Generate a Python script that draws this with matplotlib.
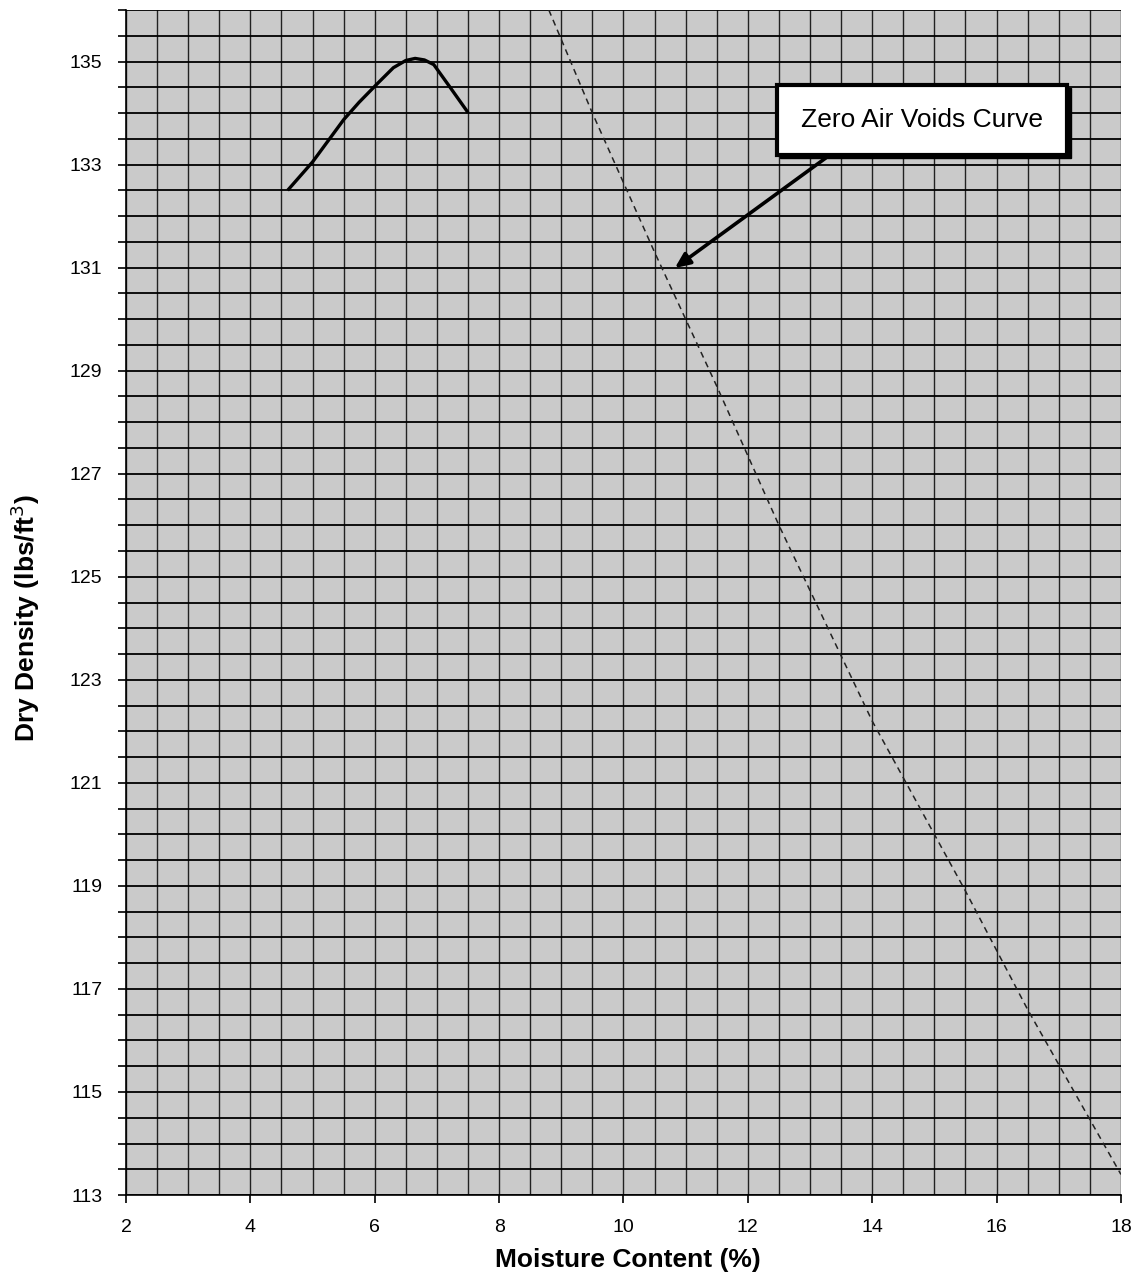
#!/usr/bin/env python3
from matplotlib import pyplot as plt
from matplotlib.patches import Rectangle
import numpy as np

plt.rcParams['font.family'] = ['Liberation Sans', 'DejaVu Sans']

# compaction curve (moisture %, dry density)
moist = [4.6, 5.0, 5.5, 5.75, 6.05, 6.3, 6.5, 6.65, 6.8, 6.95, 7.2, 7.5]
dens = [132.5, 133.05, 133.87, 134.21, 134.58, 134.88, 135.02, 135.06, 135.03, 134.94, 134.52, 134.01]

# zero air voids curve
zav_moist = [8.8, 9.5, 10.5, 11.5, 12.5, 14.0, 15.5, 16.5, 18.0]
zav_dens = [136.0, 134.0, 131.3, 128.7, 126.0, 122.2, 118.9, 116.6, 113.4]

xticks = [2, 4, 6, 8, 10, 12, 14, 16, 18]
yticks = [113, 115, 117, 119, 121, 123, 125, 127, 129, 131, 133, 135]

fig = plt.figure(figsize=(11.38, 12.81), dpi=100)
ax = fig.add_axes([0.1107, 0.0671, 0.985 - 0.1107, 0.9922 - 0.0671])
ax.set_facecolor('#cacaca')

ax.set_xlim(2, 18)
ax.set_ylim(113, 136)

# grid every 0.5 in both directions
ax.set_xticks(np.arange(2, 18.01, 0.5), minor=True)
ax.set_yticks(np.arange(113, 136.01, 0.5), minor=True)
ax.grid(True, which='both', axis='x', color='#222222', lw=1.0)
ax.grid(True, which='both', axis='y', color='black', lw=1.3)
ax.set_axisbelow(True)

ax.set_xticks(xticks)
ax.set_yticks(yticks)
ax.tick_params(axis='x', which='major', length=6, width=1.2, pad=11, labelsize=14)
ax.tick_params(axis='x', which='minor', length=0)
ax.tick_params(axis='y', which='both', length=6, width=1.2, pad=11, labelsize=14)

for s in ['top', 'right']:
    ax.spines[s].set_visible(False)
ax.spines['left'].set_linewidth(1.2)
ax.spines['bottom'].set_linewidth(1.2)

ax.plot(moist, dens, color='black', lw=2.4, zorder=3, solid_capstyle='butt')
ax.plot(zav_moist, zav_dens, color='#222222', lw=1.1, ls=(0, (4, 3)), zorder=3)

ax.set_xlabel('Moisture Content (%)', fontsize=19, fontweight='bold')
ax.set_ylabel('Dry Density (lbs/ft$^3$)', fontsize=19, fontweight='bold')
ax.xaxis.set_label_coords(0.5045, -0.045)
ax.yaxis.set_label_coords(-0.0844, 0.487)

# label box with a little shadow
shadow = Rectangle((12.52, 133.13), 4.67, 1.36, facecolor='black', edgecolor='black', zorder=5)
ax.add_patch(shadow)
box = Rectangle((12.47, 133.19), 4.67, 1.36, facecolor='white', edgecolor='black', lw=3, zorder=6)
ax.add_patch(box)
ax.text(14.8, 133.87, 'Zero Air Voids Curve', fontsize=19, ha='center', va='center', zorder=7)

ax.annotate('', xy=(10.79, 130.96), xytext=(13.29, 133.16),
            arrowprops=dict(arrowstyle='-|>,head_length=0.9,head_width=0.4', color='black', lw=2.6),
            zorder=4)

plt.savefig('out.png')
